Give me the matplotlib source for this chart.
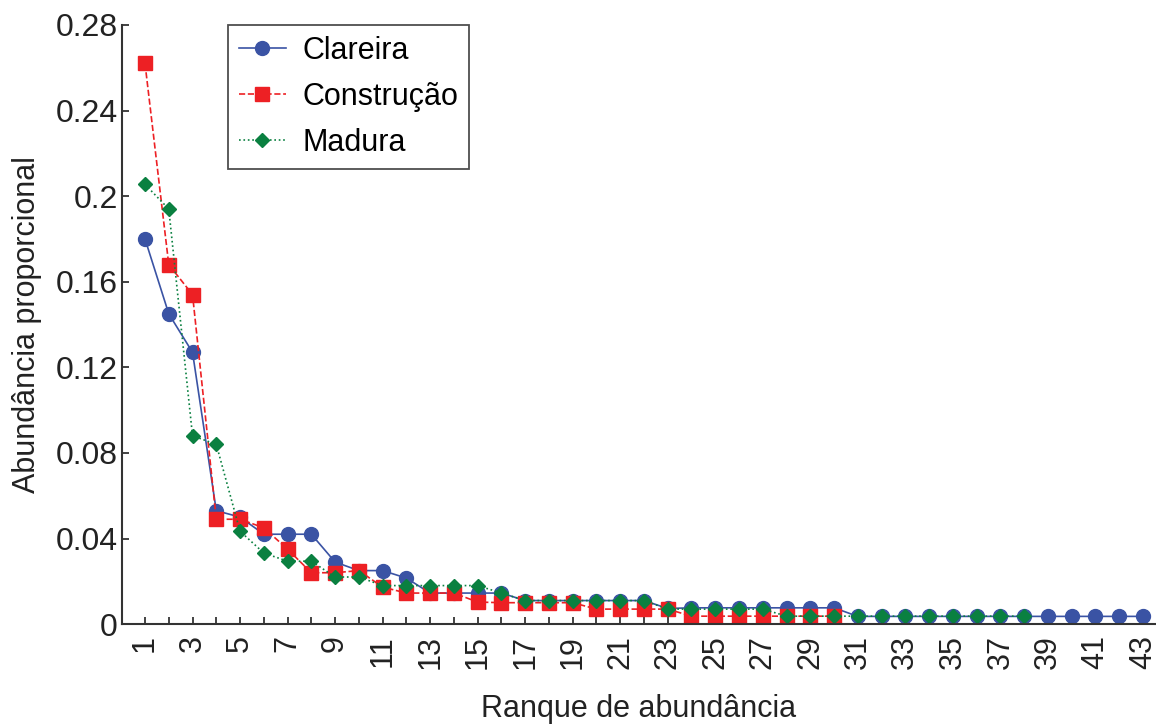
import numpy as np
import matplotlib
matplotlib.use("Agg")
import matplotlib.pyplot as plt

plt.rcParams['font.family'] = ['Liberation Sans', 'DejaVu Sans']

# proportional abundance per rank, one list per successional stage
clareira = [0.180, 0.145, 0.127, 0.053, 0.050, 0.042, 0.042, 0.042, 0.029, 0.025,
            0.025, 0.0215, 0.0145, 0.0145, 0.0145, 0.0145, 0.011, 0.011, 0.011, 0.011,
            0.011, 0.011, 0.0073, 0.0076, 0.0076, 0.0076, 0.0076, 0.0076, 0.0076, 0.0076,
            0.0036, 0.0036, 0.0036, 0.0036, 0.0036, 0.0036, 0.0036, 0.0036, 0.0036, 0.0036,
            0.0036, 0.0036, 0.0036]
construcao = [0.262, 0.168, 0.154, 0.049, 0.049, 0.045, 0.035, 0.024, 0.024, 0.025,
              0.0173, 0.0145, 0.0145, 0.0145, 0.0103, 0.0100, 0.0100, 0.0100, 0.0100, 0.0070,
              0.0070, 0.0070, 0.0070, 0.0037, 0.0037, 0.0037, 0.0037, 0.0037, 0.0037, 0.0037]
madura = [0.2055, 0.194, 0.088, 0.084, 0.0434, 0.0332, 0.0294, 0.0294, 0.022, 0.022,
          0.018, 0.018, 0.018, 0.018, 0.018, 0.0145, 0.011, 0.011, 0.011, 0.011,
          0.011, 0.011, 0.0070, 0.0070, 0.0070, 0.0070, 0.0070, 0.0037, 0.0037, 0.0037,
          0.0037, 0.0037, 0.0037, 0.0037, 0.0037, 0.0037, 0.0037, 0.0037]

fig = plt.figure(figsize=(11.56, 7.24), dpi=100)
ax = fig.add_axes([0.1055, 0.138, 0.8945, 0.8275])

ax.plot(np.arange(1, len(clareira) + 1), clareira, '-', color='#3A53A4', lw=1.2,
        marker='o', ms=10, mec='#3A53A4', label='Clareira')
ax.plot(np.arange(1, len(construcao) + 1), construcao, '--', color='#ED2024', lw=1.2,
        marker='s', ms=9.5, mec='#ED2024', label='Construção')
ax.plot(np.arange(1, len(madura) + 1), madura, ':', color='#0A8040', lw=1.2,
        marker='D', ms=7.5, mec='#0A8040', label='Madura')

ax.set_xlim(0.03, 43.55)
ax.set_ylim(0, 0.28)
ax.set_yticks(np.arange(0, 0.281, 0.04))
ax.set_yticklabels(['0', '0.04', '0.08', '0.12', '0.16', '0.2', '0.24', '0.28'])
ranks = np.arange(1, 44)
ax.set_xticks(ranks)
ax.set_xticklabels([str(r) if r % 2 == 1 else '' for r in ranks], rotation=90)
ax.tick_params(direction='in', length=5, width=1.2, labelsize=22, colors='#222222')
ax.tick_params(axis='y', labelsize=23, pad=3)
ax.tick_params(axis='x', pad=8)

for s in ['top', 'right']:
    ax.spines[s].set_visible(False)
for s in ['left', 'bottom']:
    ax.spines[s].set_linewidth(1.5)
    ax.spines[s].set_color('#333333')

ax.set_xlabel('Ranque de abundância', fontsize=22, color='#222222', labelpad=18)
ax.set_ylabel('Abundância proporcional', fontsize=22, color='#222222', labelpad=10)

leg = ax.legend(loc='upper left', bbox_to_anchor=(0.1025, 1.0), fontsize=22,
                frameon=True, fancybox=False, handlelength=1.55, borderpad=0.35,
                labelspacing=0.53, handletextpad=0.55, borderaxespad=0)
leg.get_frame().set_edgecolor('#222222')
leg.get_frame().set_linewidth(1.3)

fig.savefig('out.png', dpi=100)
